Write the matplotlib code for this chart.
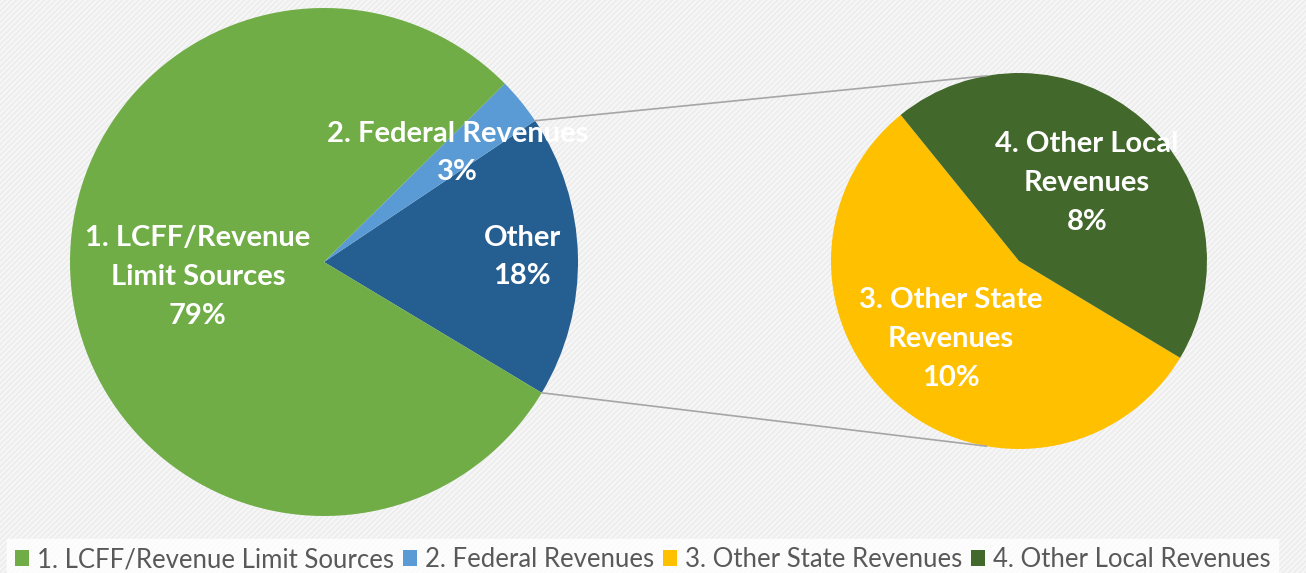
import numpy as np
import matplotlib
matplotlib.use("Agg")
import matplotlib.pyplot as plt
from matplotlib.patches import Rectangle

# DATA
main_labels = ["1. LCFF/Revenue Limit Sources", "2. Federal Revenues", "Other"]
main_values = [79, 3, 18]
other_labels = ["3. Other State Revenues", "4. Other Local Revenues"]
other_values = [10, 8]

main_text = ["1. LCFF/Revenue\nLimit Sources\n79%", "2. Federal Revenues\n3%", "Other\n18%"]
other_text = ["3. Other State\nRevenues\n10%", "4. Other Local\nRevenues\n8%"]

# COLORS
main_colors = ["#70ad47", "#5b9bd5", "#255e91"]
other_colors = ["#ffc000", "#43682b"]

W, H = 1306, 573
fig = plt.figure(figsize=(W / 100, H / 100), dpi=100)
fig.patch.set_facecolor("#f5f5f5")
ax = fig.add_axes([0, 0, 1, 1])

# faint striped background
ax.add_patch(Rectangle((0, 0), W, H, facecolor="#f6f6f6", edgecolor="#ebebeb",
                       hatch="//////", linewidth=0, zorder=0))

c1 = (324, H - 262)
r1 = 254
c2 = (1019, H - 261)
r2 = 188

# draw order: Other, Federal, LCFF (counter clockwise from -31 deg)
order = [2, 1, 0]
w1, _ = ax.pie([main_values[i] for i in order], colors=[main_colors[i] for i in order],
               center=c1, radius=r1, startangle=-31, counterclock=True,
               wedgeprops=dict(linewidth=0), frame=True)
w2, _ = ax.pie(other_values, colors=other_colors, center=c2, radius=r2,
               startangle=129, counterclock=True, wedgeprops=dict(linewidth=0), frame=True)
ax.set_xlim(0, W)
ax.set_ylim(0, H)
ax.set_aspect("equal")
ax.axis("off")

font = ["Lato", "DejaVu Sans"]

def place(wedge, center, radius, frac, txt):
    mid = np.deg2rad((wedge.theta1 + wedge.theta2) / 2)
    x = center[0] + frac * radius * np.cos(mid)
    y = center[1] + frac * radius * np.sin(mid)
    ax.text(x, y, txt, ha="center", va="center", color="white", fontsize=21,
            fontweight="bold", family=font, linespacing=1.6, zorder=5)

fracs1 = {0: 0.50, 1: 0.68, 2: 0.78}
for k, i in enumerate(order):
    place(w1[k], c1, r1, fracs1[i], main_text[i])
for k in range(2):
    place(w2[k], c2, r2, 0.55, other_text[k])

# connector lines between the Other wedge and the second pie
other_w = w1[0]
for a_left, a_right in [(other_w.theta2, 100), (other_w.theta1, 260)]:
    x0 = c1[0] + r1 * np.cos(np.deg2rad(a_left))
    y0 = c1[1] + r1 * np.sin(np.deg2rad(a_left))
    x1 = c2[0] + r2 * np.cos(np.deg2rad(a_right))
    y1 = c2[1] + r2 * np.sin(np.deg2rad(a_right))
    ax.plot([x0, x1], [y0, y1], color="#a6a6a6", linewidth=1.2, zorder=1)

# legend
handles = [w1[2], w1[1], w2[0], w2[1]]
names = [main_labels[0], main_labels[1], other_labels[0], other_labels[1]]
leg = ax.legend(handles, names, loc="lower center", bbox_to_anchor=(0.492, -0.012), ncol=4,
                frameon=True, fancybox=False, prop={"family": font, "size": 18.5},
                handlelength=0.55, handleheight=0.55, handletextpad=0.3, columnspacing=0.35,
                borderpad=0.3, borderaxespad=0.0)
leg.get_frame().set_facecolor("white")
leg.get_frame().set_edgecolor("white")
for t in leg.get_texts():
    t.set_color("#595959")

fig.savefig("out.png", dpi=100, facecolor=fig.get_facecolor())
